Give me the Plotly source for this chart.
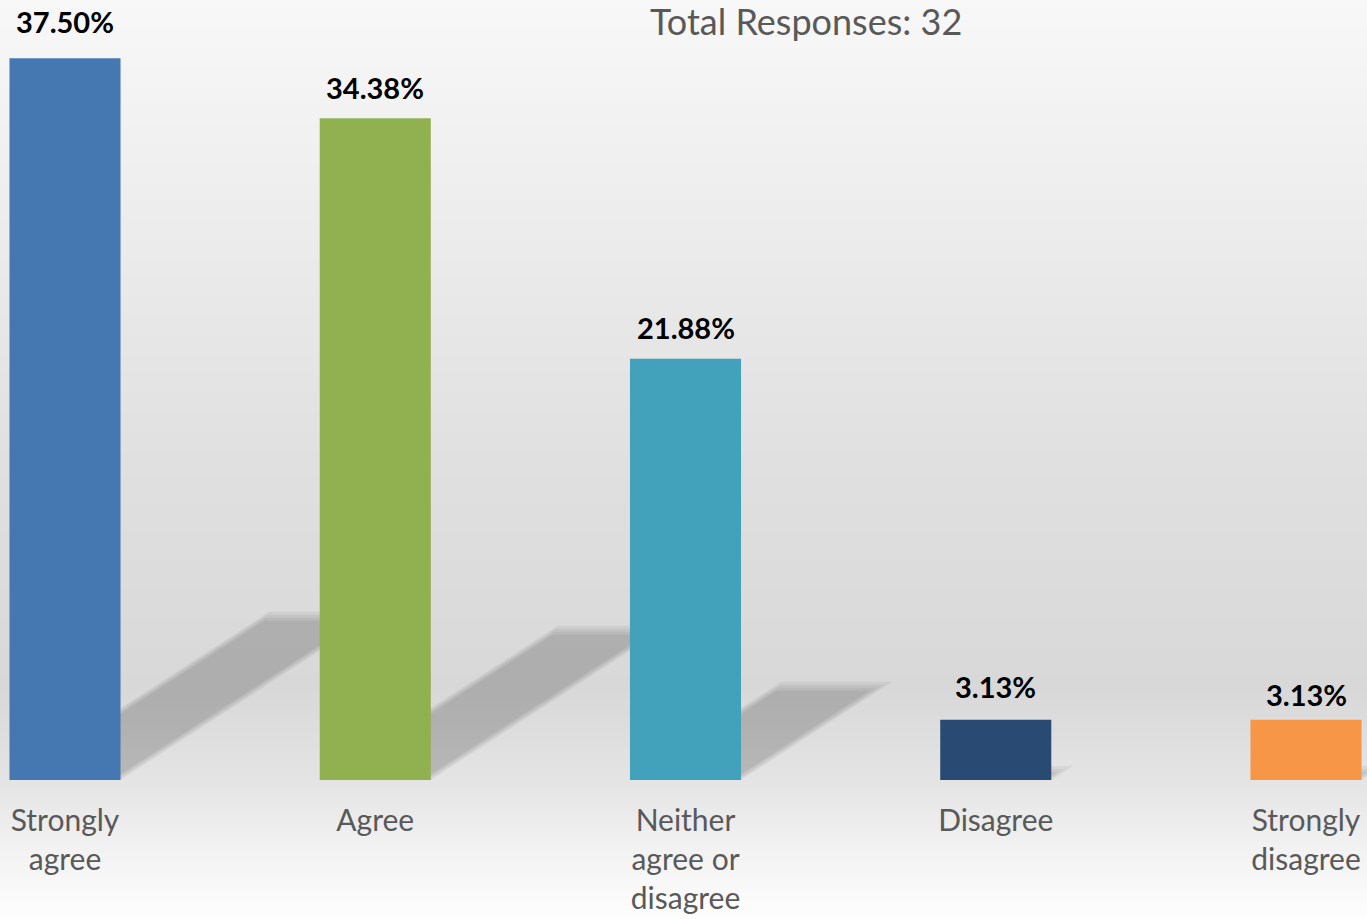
import plotly.graph_objects as go

# ---------------- data ----------------
categories = ["Strongly<br>agree", "Agree", "Neither<br>agree or<br>disagree", "Disagree", "Strongly<br>disagree"]
percentages = [37.50, 34.38, 21.88, 3.13, 3.13]
value_labels = ["37.50%", "34.38%", "21.88%", "3.13%", "3.13%"]
bar_colors = ["#4577B1", "#91B04F", "#42A2BB", "#294A73", "#F79646"]
title_text = "Total Responses: 32"

W, H = 1367, 919
positions = list(range(len(categories)))
bar_width = 0.358
label_shift = [37, 31, 31, 33, 25]   # px above bar top (style only)

fig = go.Figure()

fig.add_trace(go.Bar(
    x=positions,
    y=percentages,
    width=bar_width,
    marker=dict(color=bar_colors, line=dict(width=0)),
    hoverinfo="skip",
))

# value labels above bars
for x, v, t, s in zip(positions, percentages, value_labels, label_shift):
    fig.add_annotation(x=x, y=v, text="<b>" + t + "</b>", showarrow=False,
                       yanchor="middle", yshift=s,
                       font=dict(family="Lato", size=29, color="#000000"))

# ---- background gradient (light top, grey middle, white bottom) ----
plot_bottom_px = 780
stops = [(0, 248), (230, 236), (460, 224), (690, 216), (780, 228), (850, 242), (919, 254)]


def grey_at(p):
    for (p0, c0), (p1, c1) in zip(stops[:-1], stops[1:]):
        if p0 <= p <= p1:
            return c0 + (c1 - c0) * (p - p0) / (p1 - p0)
    return stops[-1][1]


shapes = []
step = 4
for p in range(0, H, step):
    g = int(round(grey_at(p + step / 2)))
    shapes.append(dict(type="rect", xref="paper", yref="paper", layer="below",
                       x0=-0.01, x1=1.01,
                       y0=(plot_bottom_px - p - step - 0.5) / plot_bottom_px,
                       y1=(plot_bottom_px - p + 0.5) / plot_bottom_px,
                       fillcolor=f"rgb({g},{g},{g})", line=dict(width=0)))

# ---- slanted soft shadows behind bars ----
for x, v in zip(positions, percentages):
    dx = 0.0223 * v
    dy = 0.233 * v
    for k in range(4):
        sx = k * 3 / 310.25
        sy = k * 3 / 19.25
        x0 = x - bar_width / 2 + sx
        x1 = x + bar_width / 2 - sx
        top = max(dy - sy, 0)
        path = (f"M {x0} 0 L {x1} 0 L {x1 + dx * top / dy} {top} "
                f"L {x0 + dx * top / dy} {top} Z")
        shapes.append(dict(type="path", xref="x", yref="y", layer="between",
                           path=path, fillcolor="rgba(0,0,0,0.05)",
                           line=dict(width=0)))

fig.update_layout(shapes=shapes)

fig.add_annotation(xref="paper", yref="paper", x=806 / W, y=1, yshift=3,
                   text=title_text, showarrow=False, xanchor="center", yanchor="top",
                   font=dict(family="Lato", size=36, color="#595959"))

fig.update_layout(
    width=W, height=H,
    margin=dict(l=0, r=0, t=0, b=H - plot_bottom_px),
    paper_bgcolor="#FFFFFF",
    plot_bgcolor="rgba(0,0,0,0)",
    showlegend=False,
    xaxis=dict(range=[-65 / 310.25, (W - 65) / 310.25], tickvals=positions, ticktext=categories,
               showgrid=False, zeroline=False, showline=False, ticks="",
               ticklabelstandoff=20,
               tickfont=dict(family="Lato", size=30, color="#595959")),
    yaxis=dict(range=[0, plot_bottom_px / 19.25], visible=False, showgrid=False, zeroline=False),
)

fig.write_html("out.html", config={"displayModeBar": False},
               post_script="document.body.style.margin='0';document.body.style.padding='0';")
